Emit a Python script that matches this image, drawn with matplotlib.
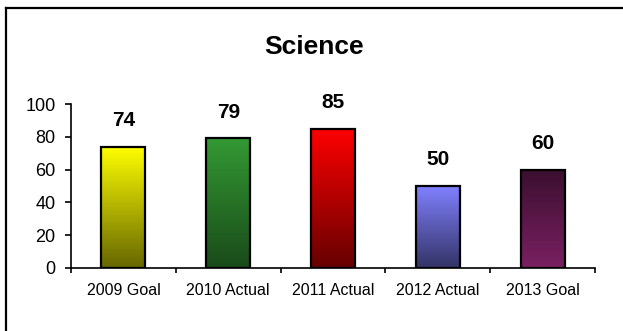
import numpy as np
import matplotlib
matplotlib.use("Agg")
import matplotlib.pyplot as plt
from matplotlib.colors import LinearSegmentedColormap
from matplotlib.lines import Line2D

plt.rcParams["font.family"] = ["Liberation Sans", "DejaVu Sans"]

# Data
categories = ["2009 Goal", "2010 Actual", "2011 Actual", "2012 Actual", "2013 Goal"]
scores = [74, 79, 85, 50, 60]

# gradient colours per bar: (top, bottom)
bar_colors = [
    ("#ffff00", "#666600"),
    ("#339933", "#1a4a1a"),
    ("#ff0000", "#660000"),
    ("#8080ff", "#333366"),
    ("#3a0f2e", "#7a2062"),
]

fig = plt.figure(figsize=(6.23, 3.31), dpi=100)
ax = fig.add_axes([71 / 623, 1 - 268 / 331, (595 - 71) / 623, (268 - 104) / 331])

x = np.arange(len(categories))
width = 0.42
bars = ax.bar(x, scores, width=width, facecolor="none", edgecolor="black",
              linewidth=1.6, zorder=3)

# fill each bar with a vertical gradient clipped to the bar outline
grad = np.linspace(0, 1, 256).reshape(-1, 1)
for bar, (top, bottom) in zip(bars, bar_colors):
    cmap = LinearSegmentedColormap.from_list("g", [bottom, top])
    x0 = bar.get_x()
    h = bar.get_height()
    im = ax.imshow(grad, cmap=cmap, origin="lower", aspect="auto",
                   extent=[x0, x0 + width, 0, h], zorder=2)
    im.set_clip_path(bar)

for xi, v in zip(x, scores):
    ax.annotate(str(v), (xi, v), xytext=(0, 19), textcoords="offset points",
                ha="center", va="center", fontsize=15, fontweight="bold")

ax.set_xlim(-0.5, len(categories) - 0.5)
ax.set_ylim(0, 100)
ax.set_yticks(range(0, 101, 20))
ax.tick_params(axis="y", labelsize=13, length=4, width=1.2, pad=7)

ax.set_xticks(np.arange(-0.5, len(categories), 1.0))
ax.set_xticklabels([])
ax.set_xticks(x, minor=True)
ax.set_xticklabels(categories, minor=True)
ax.tick_params(axis="x", which="major", length=3.5, width=1.2)
ax.tick_params(axis="x", which="minor", length=0, labelsize=11.5, pad=11)

for side in ("top", "right"):
    ax.spines[side].set_visible(False)
for side in ("left", "bottom"):
    ax.spines[side].set_linewidth(1.2)

fig.text(314 / 623, 1 - 47 / 331, "Science", ha="center", va="center",
         fontsize=19, fontweight="bold")

# frame around the chart area
fig.add_artist(Line2D([6 / 623, 6 / 623], [0, 1 - 8 / 331],
                      transform=fig.transFigure, color="black", linewidth=1.6))
fig.add_artist(Line2D([6 / 623, 1], [1 - 8 / 331, 1 - 8 / 331],
                      transform=fig.transFigure, color="black", linewidth=1.6))

fig.savefig("out.png", dpi=100)
